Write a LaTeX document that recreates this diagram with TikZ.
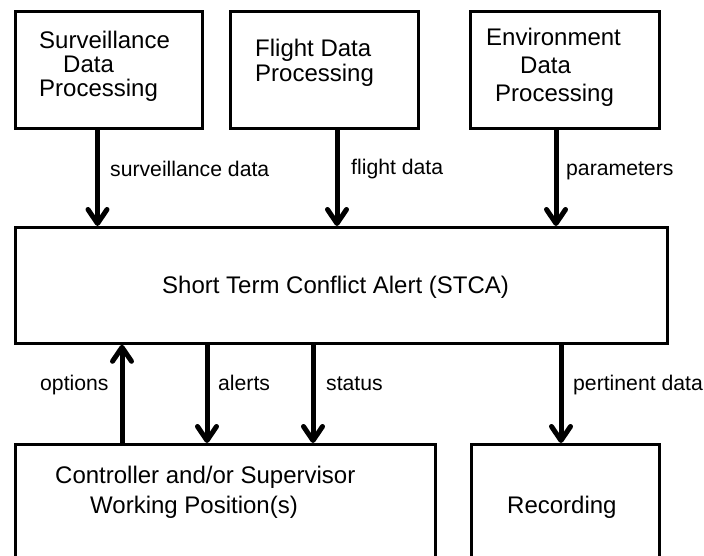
\documentclass[tikz,border=0pt]{standalone}
\usepackage{fontspec}
\setmainfont{Liberation Sans}
\usetikzlibrary{arrows.meta}
\tikzset{
  box/.style={draw, line width=2.8pt, inner sep=0pt, anchor=north west},
  boxtxt/.style={font=\fontsize{24}{24}\selectfont, inner sep=0pt, anchor=base west},
  lbl/.style={font=\fontsize{21.2}{22}\selectfont, inner sep=0pt, anchor=base west},
  arr/.style={line width=5pt, -{Straight Barb[length=14pt,width=19pt,round]}}
}
\begin{document}
\begin{tikzpicture}[x=1pt,y=-1pt]
\useasboundingbox (0,0) rectangle (704,556);
\clip (0,0) rectangle (704,556);
\fill[white] (0,0) rectangle (704,556);
% boxes
\node[box, minimum width=187pt, minimum height=117pt] (sdp) at (14,10) {};
\node[box, minimum width=188pt, minimum height=117pt] (fdp) at (229,10) {};
\node[box, minimum width=189pt, minimum height=117pt] (edp) at (469,10) {};
\node[box, minimum width=652pt, minimum height=116pt] (stca) at (14,226) {};
\node[box, minimum width=420pt, minimum height=150pt] (cwp) at (14,443) {};
\node[box, minimum width=188pt, minimum height=150pt] (rec) at (470,443) {};
% box texts
\node[boxtxt] (sdp1) at (39,49) {Surveillance};
\node[boxtxt] (sdp2) at (63,73) {Data};
\node[boxtxt] (sdp3) at (39,97) {Processing};
\node[boxtxt] (fdp1) at (255,57) {Flight Data};
\node[boxtxt] (fdp2) at (255,82) {Processing};
\node[boxtxt] (edp1) at (486,46) {Environment};
\node[boxtxt] (edp2) at (520,74) {Data};
\node[boxtxt] (edp3) at (495,102) {Processing};
\node[boxtxt] (stcat) at (162,293) {Short Term Conflict Alert (STCA)};
\node[boxtxt] (cwp1) at (55,483) {Controller and/or Supervisor};
\node[boxtxt] (cwp2) at (90,513) {Working Position(s)};
\node[boxtxt] (rect) at (507,513) {Recording};
% x positions of connectors
\coordinate (xa) at (97.5,0);
\coordinate (xb) at (337,0);
\coordinate (xc) at (556,0);
\coordinate (xd) at (122,0);
\coordinate (xe) at (207,0);
\coordinate (xf) at (313,0);
\coordinate (xg) at (561,0);
% connectors
\draw[arr] (xa |- sdp.south) -- (xa |- stca.north);
\draw[arr] (xb |- fdp.south) -- (xb |- stca.north);
\draw[arr] (xc |- edp.south) -- (xc |- stca.north);
\draw[arr] (xd |- cwp.north) -- (xd |- stca.south);
\draw[arr] (xe |- stca.south) -- (xe |- cwp.north);
\draw[arr] (xf |- stca.south) -- (xf |- cwp.north);
\draw[arr] (xg |- stca.south) -- (xg |- rec.north);
% labels
\node[lbl] (l1) at (110,177) {surveillance data};
\node[lbl] (l2) at (351,175) {flight data};
\node[lbl] (l3) at (566,176) {parameters};
\node[lbl] (l4) at (40,390) {options};
\node[lbl] (l5) at (218,390) {alerts};
\node[lbl] (l6) at (326,390) {status};
\node[lbl] (l7) at (573,390) {pertinent data};
\end{tikzpicture}
\end{document}
